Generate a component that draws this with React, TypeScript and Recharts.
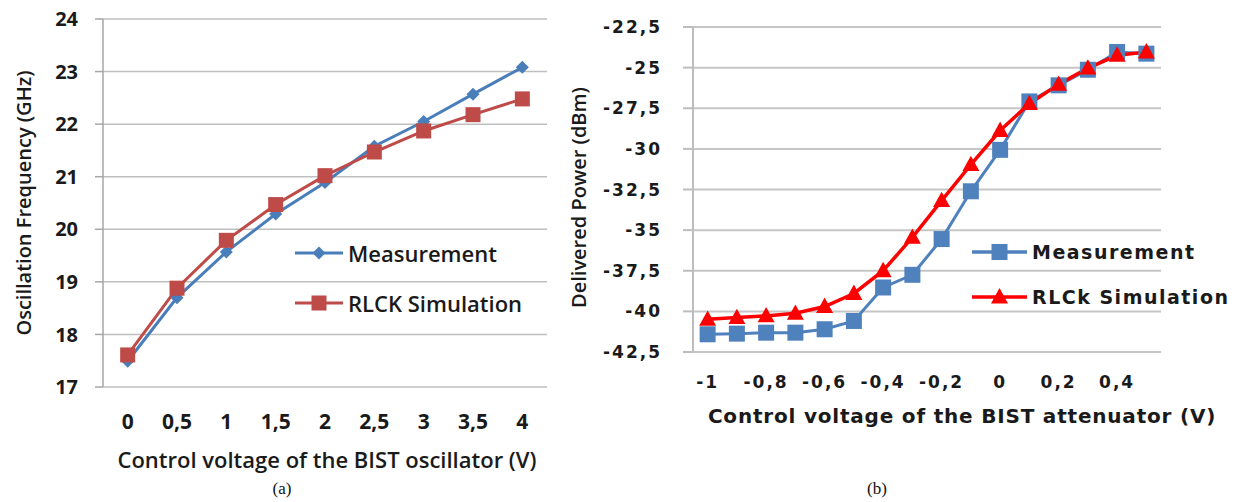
import React from 'react';
import { LineChart, Line, XAxis, YAxis, CartesianGrid, Legend, Label } from 'recharts';

// (a) oscillator tuning
const oscVoltage = [0, 0.5, 1, 1.5, 2, 2.5, 3, 3.5, 4];
const oscMeasured = [17.49, 18.7, 19.57, 20.29, 20.89, 21.58, 22.05, 22.57, 23.08];
const oscSimulated = [17.61, 18.88, 19.79, 20.47, 21.02, 21.47, 21.87, 22.18, 22.48];
const freqTicks = [17, 18, 19, 20, 21, 22, 23, 24];

// (b) attenuator
const attVoltage = [-1, -0.9, -0.8, -0.7, -0.6, -0.5, -0.4, -0.3, -0.2, -0.1, 0, 0.1, 0.2, 0.3, 0.4, 0.5];
const attMeasured = [-41.41, -41.37, -41.31, -41.31, -41.1, -40.59, -38.53, -37.75, -35.55, -32.61, -30.06, -27.08, -26.09, -25.13, -24.04, -24.14];
const attSimulated = [-40.49, -40.38, -40.28, -40.12, -39.7, -38.9, -37.5, -35.45, -33.19, -30.97, -28.87, -27.22, -26.03, -25.03, -24.24, -24.04];
const attLabelTicks = [-1, -0.8, -0.6, -0.4, -0.2, 0, 0.2, 0.4];
const powerTicks = [-42.5, -40, -37.5, -35, -32.5, -30, -27.5, -25, -22.5];

const freqData = oscVoltage.map((v, i) => ({ v, meas: oscMeasured[i], sim: oscSimulated[i] }));
const powerData = attVoltage.map((v, i) => ({ v, meas: attMeasured[i], sim: attSimulated[i] }));

// category boundaries (Excel style tick marks between categories)
const oscStep = oscVoltage[1] - oscVoltage[0];
const oscEdges = [...oscVoltage.map((v) => v - oscStep / 2), oscVoltage[oscVoltage.length - 1] + oscStep / 2];
const attStep = 0.1;
const attEdges = [...attVoltage.map((v) => +(v - attStep / 2).toFixed(3)), +(attVoltage[attVoltage.length - 1] + attStep / 2).toFixed(3)];

const comma = (v: number) => String(+(+v).toFixed(2)).replace('.', ',');

const BLUE_A = '#4A7EBB';
const RED_A = '#BE4B48';
const BLUE_B = '#4F81BD';
const RED_B = '#FF0000';

const calibri = '"Open Sans", sans-serif';
const verdana = '"DejaVu Sans", sans-serif';

type Shape = 'diamond' | 'square' | 'triangle';

function marker(shape: Shape, cx: number, cy: number, size: number, fill: string, key?: any) {
  const h = size / 2;
  if (shape === 'diamond') {
    return <path key={key} d={`M${cx},${cy - h}L${cx + h},${cy}L${cx},${cy + h}L${cx - h},${cy}Z`} fill={fill} />;
  }
  if (shape === 'triangle') {
    return <path key={key} d={`M${cx},${cy - h * 1.05}L${cx + h},${cy + h * 0.75}L${cx - h},${cy + h * 0.75}Z`} fill={fill} />;
  }
  return <rect key={key} x={cx - h} y={cy - h} width={size} height={size} fill={fill} />;
}

const dotOf = (shape: Shape, size: number, fill: string) => (p: any) =>
  marker(shape, p.cx, p.cy, size, fill, `${shape}-${p.index}`);

function legendContent(opts: { shapes: Shape[]; sizes: number[]; lineW: number; rowH: number; font: React.CSSProperties; strokeW: number }) {
  return (props: any) => (
    <div>
      {(props.payload || []).map((item: any, i: number) => (
        <div key={i} style={{ display: 'flex', alignItems: 'center', height: opts.rowH }}>
          <svg width={opts.lineW} height={24} style={{ display: 'block' }}>
            <line x1={0} x2={opts.lineW} y1={12} y2={12} stroke={item.color} strokeWidth={opts.strokeW} />
            {marker(opts.shapes[i], opts.lineW / 2, 12, opts.sizes[i], item.color)}
          </svg>
          <span style={{ marginLeft: 5, color: '#1a1a1a', whiteSpace: 'nowrap', ...opts.font }}>{item.value}</span>
        </div>
      ))}
    </div>
  );
}

function FrequencyChart() {
  const grid = '#BFBFBF';
  const axis = '#A6A6A6';
  return (
    <LineChart width={560} height={490} data={freqData} margin={{ top: 19, right: 13, left: 0, bottom: 0 }}>
      <CartesianGrid xAxisId="lab" vertical={false} stroke={grid} strokeWidth={1.5} />
      <XAxis
        xAxisId="edge"
        dataKey="v"
        type="number"
        domain={[oscEdges[0], oscEdges[oscEdges.length - 1]]}
        ticks={oscEdges}
        tick={false}
        height={0}
        tickSize={9}
        axisLine={{ stroke: axis, strokeWidth: 1.5 }}
        tickLine={{ stroke: axis, strokeWidth: 1.5 }}
      />
      <XAxis
        xAxisId="lab"
        dataKey="v"
        type="number"
        domain={[oscEdges[0], oscEdges[oscEdges.length - 1]]}
        ticks={oscVoltage}
        tickFormatter={comma}
        axisLine={false}
        tickLine={false}
        tickSize={8}
        tickMargin={19}
        height={103}
        tick={{ fill: '#1a1a1a', fontSize: 21, fontWeight: 700, fontFamily: calibri }}
      >
        <Label
          content={(p: any) => (
            <text x={p.viewBox.x + p.viewBox.width / 2 + 2} y={p.viewBox.y + 81} textAnchor="middle" fill="#1a1a1a" fontSize={22} fontWeight={600} fontFamily={calibri}>
              Control voltage of the BIST oscillator (V)
            </text>
          )}
        />
      </XAxis>
      <YAxis
        type="number"
        domain={[17, 24]}
        ticks={freqTicks}
        width={103}
        tickSize={8}
        tickMargin={17}
        axisLine={{ stroke: axis, strokeWidth: 1.5 }}
        tickLine={{ stroke: axis, strokeWidth: 1.5 }}
        tick={{ fill: '#1a1a1a', fontSize: 20, fontWeight: 700, fontFamily: calibri }}
      >
        <Label
          content={(p: any) => {
            const x = p.viewBox.x + 23;
            const y = p.viewBox.y + p.viewBox.height / 2;
            return (
              <text x={x} y={y} transform={`rotate(-90 ${x} ${y})`} textAnchor="middle" dominantBaseline="central" fill="#1a1a1a" fontSize={20} fontWeight={600} fontFamily={calibri}>
                Oscillation Frequency (GHz)
              </text>
            );
          }}
        />
      </YAxis>
      <Legend
        layout="vertical"
        align="center"
        verticalAlign="middle"
        wrapperStyle={{ left: 295, top: 228, width: 'auto' }}
        content={legendContent({ shapes: ['diamond', 'square'], sizes: [13, 15], lineW: 48, rowH: 50, strokeW: 3, font: { fontFamily: calibri, fontSize: 22, fontWeight: 600 } })}
      />
      <Line xAxisId="lab" dataKey="meas" name="Measurement" stroke={BLUE_A} strokeWidth={3} dot={dotOf('diamond', 13, BLUE_A)} isAnimationActive={false} />
      <Line xAxisId="lab" dataKey="sim" name="RLCK Simulation" stroke={RED_A} strokeWidth={3} dot={dotOf('square', 15, RED_A)} isAnimationActive={false} />
    </LineChart>
  );
}

function PowerChart() {
  const grid = '#C6C6C6';
  const axis = '#BDBDBD';
  const tickFont = { fill: '#1a1a1a', fontSize: 17, fontWeight: 700, fontFamily: verdana, letterSpacing: 2 };
  return (
    <LineChart width={677} height={440} data={powerData} margin={{ top: 27, right: 76, left: 0, bottom: 0 }}>
      <CartesianGrid xAxisId="lab" vertical={false} stroke={grid} strokeWidth={2} />
      <XAxis
        xAxisId="edge"
        dataKey="v"
        type="number"
        domain={[attEdges[0], attEdges[attEdges.length - 1]]}
        ticks={attEdges}
        tick={false}
        height={0}
        tickSize={7}
        axisLine={{ stroke: axis, strokeWidth: 2 }}
        tickLine={{ stroke: axis, strokeWidth: 2 }}
      />
      <XAxis
        xAxisId="lab"
        dataKey="v"
        type="number"
        domain={[attEdges[0], attEdges[attEdges.length - 1]]}
        ticks={attLabelTicks}
        tickFormatter={comma}
        axisLine={false}
        tickLine={false}
        tickSize={7}
        tickMargin={17}
        height={88}
        tick={tickFont}
      >
        <Label
          content={(p: any) => (
            <text x={p.viewBox.x + 269} y={p.viewBox.y + 71} textAnchor="middle" fill="#1a1a1a" fontSize={20} fontWeight={700} fontFamily={verdana} letterSpacing={0.8}>
              Control voltage of the BIST attenuator (V)
            </text>
          )}
        />
      </XAxis>
      <YAxis
        type="number"
        domain={[-42.5, -22.5]}
        ticks={powerTicks}
        tickFormatter={comma}
        width={133}
        tickSize={10}
        tickMargin={21}
        axisLine={{ stroke: axis, strokeWidth: 2 }}
        tickLine={{ stroke: axis, strokeWidth: 2 }}
        tick={tickFont}
      >
        <Label
          content={(p: any) => {
            const x = p.viewBox.x + 18;
            const y = p.viewBox.y + p.viewBox.height / 2 + 8;
            return (
              <text x={x} y={y} transform={`rotate(-90 ${x} ${y})`} textAnchor="middle" dominantBaseline="central" fill="#1a1a1a" fontSize={20} fontWeight={600} fontFamily={calibri}>
                Delivered Power (dBm)
              </text>
            );
          }}
        />
      </YAxis>
      <Legend
        layout="vertical"
        align="center"
        verticalAlign="middle"
        wrapperStyle={{ left: 412, top: 229, width: 'auto' }}
        content={legendContent({ shapes: ['square', 'triangle'], sizes: [16, 17], lineW: 55, rowH: 45, strokeW: 3.5, font: { fontFamily: verdana, fontSize: 19, fontWeight: 700, letterSpacing: 1.5 } })}
      />
      <Line xAxisId="lab" dataKey="meas" name="Measurement" stroke={BLUE_B} strokeWidth={3} dot={dotOf('square', 16, BLUE_B)} isAnimationActive={false} />
      <Line xAxisId="lab" dataKey="sim" name="RLCk Simulation" stroke={RED_B} strokeWidth={3.5} dot={dotOf('triangle', 17, RED_B)} isAnimationActive={false} />
    </LineChart>
  );
}

const caption: React.CSSProperties = {
  position: 'absolute',
  top: 479,
  fontFamily: '"Liberation Serif", "Times New Roman", serif',
  fontSize: 17,
  color: '#111',
  transform: 'translateX(-50%)',
};

export default function App() {
  return (
    <div style={{ position: 'absolute', left: 0, top: 0, width: 1237, height: 502, background: '#fff', overflow: 'hidden' }}>
      <div style={{ position: 'absolute', left: 0, top: 0 }}>
        <FrequencyChart />
      </div>
      <div style={{ position: 'absolute', left: 560, top: 0 }}>
        <PowerChart />
      </div>
      <div style={{ ...caption, left: 282 }}>(a)</div>
      <div style={{ ...caption, left: 877 }}>(b)</div>
    </div>
  );
}
